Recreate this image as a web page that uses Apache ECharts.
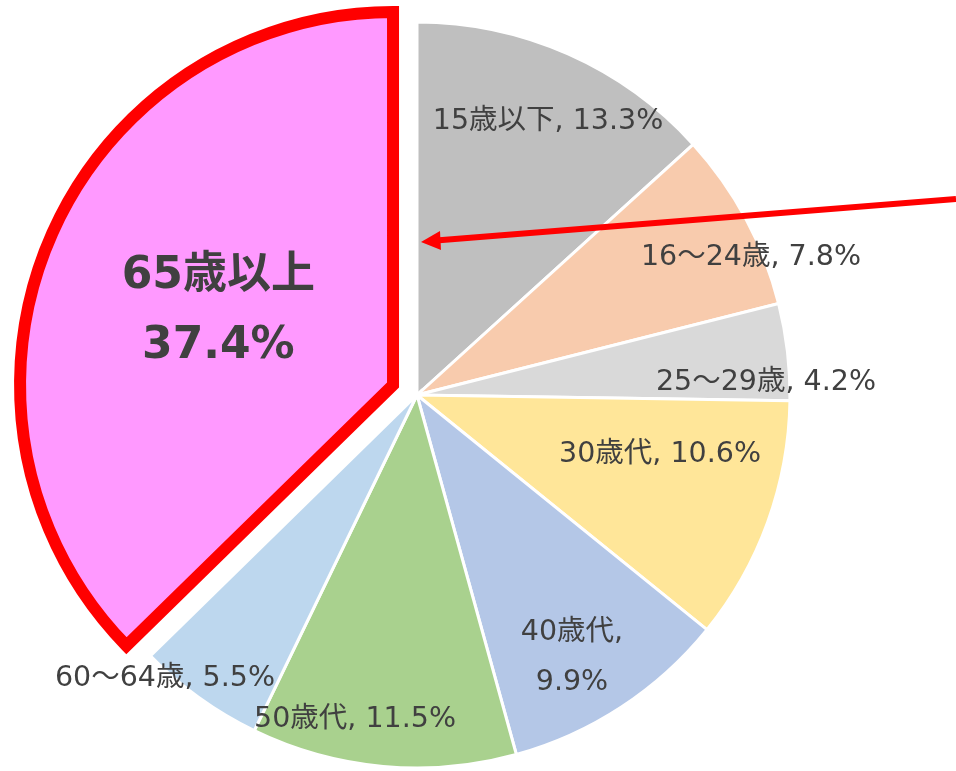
<!DOCTYPE html>
<html>
<head>
<meta charset="utf-8">
<script src="https://cdn.jsdelivr.net/npm/echarts@6/dist/echarts.min.js"></script>
<style>
html,body{margin:0;padding:0;background:#fff;}
#chart{width:956px;height:771px;}
</style>
</head>
<body>
<div id="chart"></div>
<script>
// ---- data ----
const categories = ['15歳以下', '16～24歳', '25～29歳', '30歳代', '40歳代', '50歳代', '60～64歳', '65歳以上'];
const shares = [13.3, 7.8, 4.2, 10.6, 9.9, 11.5, 5.5, 37.4];
const highlighted = '65歳以上';

// ---- style / layout (not data) ----
const colors = ['#BFBFBF', '#F8CBAD', '#D9D9D9', '#FFE699', '#B4C7E7', '#A9D18E', '#BDD7EE', '#FF99FF'];
const labelCenters = [[548, 122], [751, 258], [766, 383], [660, 455], [572, 658], [355, 720], [165, 679], [206, 317]];
const multiLine = {'40歳代': true};

const chart = echarts.init(document.getElementById('chart'), null, {renderer: 'canvas'});

const data = categories.map((name, i) => {
  const isHi = name === highlighted;
  const style = {color: colors[i], borderColor: isHi ? '#FF0000' : '#FFFFFF', borderWidth: isHi ? 12 : 3, borderJoin: 'miter', borderMiterLimit: 20};
  const item = {
    name: name,
    value: shares[i],
    itemStyle: style,
    label: isHi ? {
      fontSize: 44, fontWeight: 'bold', color: '#404040', lineHeight: 70,
      formatter: p => p.name + '\n' + p.value.toFixed(1) + '%'
    } : {
      formatter: p => p.name + (multiLine[p.name] ? ',\n' : ', ') + p.value.toFixed(1) + '%',
      lineHeight: multiLine[name] ? 50 : 30
    }
  };
  if (isHi) {
    item.selected = true;
    item.select = {itemStyle: Object.assign({}, style)};
  }
  return item;
});

chart.setOption({
  animation: false,
  backgroundColor: '#FFFFFF',
  series: [{
    type: 'pie',
    center: [417, 395],
    radius: [0, 373],
    startAngle: 90,
    clockwise: true,
    avoidLabelOverlap: false,
    selectedMode: 'single',
    selectedOffset: 26,
    emphasis: {disabled: true},
    label: {
      show: true,
      position: 'inside',
      fontFamily: '"DejaVu Sans", "Noto Sans CJK JP", sans-serif',
      fontSize: 28.5,
      color: '#404040'
    },
    labelLine: {show: false},
    labelLayout: function (params) {
      const c = labelCenters[params.dataIndex];
      return {x: c[0], y: c[1], align: 'center', verticalAlign: 'middle'};
    },
    data: data
  }],
  graphic: [
    {type: 'line', z: 100, zlevel: 1, silent: true, shape: {x1: 956, y1: 199, x2: 436, y2: 240.5}, style: {stroke: '#FF0000', lineWidth: 6}},
    {type: 'polygon', z: 100, zlevel: 1, silent: true, shape: {points: [[421, 242], [440, 231], [441, 250]]}, style: {fill: '#FF0000'}}
  ]
});
</script>
</body>
</html>
